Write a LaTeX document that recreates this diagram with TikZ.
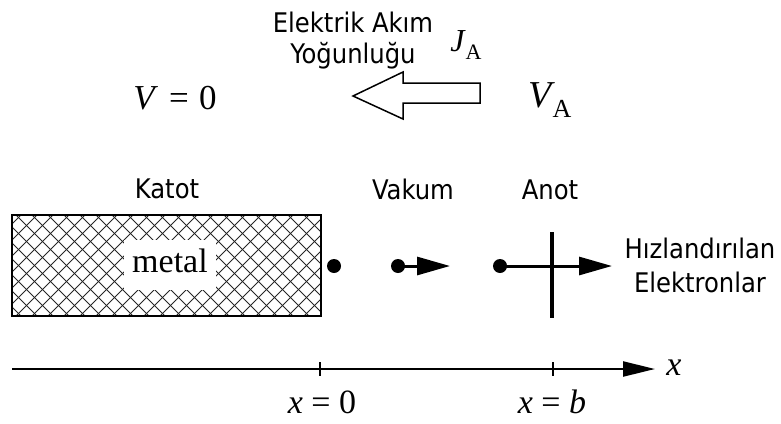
\documentclass[tikz,border=0pt]{standalone}
\usepackage{fontspec}
\usetikzlibrary{arrows.meta}
\newfontfamily\labelfont{DejaVu Sans Condensed}
\newfontfamily\timesfont{Liberation Serif}
\newcommand{\lbl}{\labelfont\fontsize{27}{31}\selectfont}
\newcommand{\subA}[1]{\kern1pt\raisebox{-0.28em}{\upshape\fontsize{#1}{#1}\selectfont A}}
\begin{document}
\begin{tikzpicture}[x=1pt,y=-1pt,
  sanslbl/.style={font=\lbl, inner sep=0pt, anchor=base},
  serlbl/.style={inner sep=0pt, anchor=base},
  hatchline/.style={line width=1pt, draw=black!85},
  dotnode/.style={circle, fill=black, inner sep=0pt, minimum size=14pt},
  elarrow/.style={line width=3pt, -{Triangle[length=33pt,width=18pt]}},
]
\useasboundingbox (0,0) rectangle (781,423);

% metal block with crosshatch
\begin{scope}
  \clip (12,215) rectangle (321,316);
  \foreach \a in {-112,-96,...,336} {
    \draw[hatchline] (\a,215) -- ++(101,101);
    \draw[hatchline] (\a,316) -- ++(101,-101);
  }
\end{scope}
\draw[line width=1.5pt] (12,215) rectangle (321,316);
\fill[white] (124,240) rectangle (216,290);
\node[serlbl, font=\timesfont\fontsize{34}{34}\selectfont] (metal) at (170,272) {metal};

% labels
\node[sanslbl] (katot) at (167,198) {Katot};
\node[sanslbl] (vakum) at (413,199) {Vakum};
\node[sanslbl] (anot) at (550,199) {Anot};
\node[sanslbl] (ea1) at (353,32) {Elektrik Akım};
\node[sanslbl] (ea2) at (353,63) {Yoğunluğu};
\node[sanslbl] (hz1) at (700,258) {Hızlandırılan};
\node[sanslbl] (hz2) at (700,292) {Elektronlar};

% potentials and current density
\node[serlbl, font=\timesfont\fontsize{35}{35}\selectfont] (v0) at (175,109) {\itshape V\/ = \upshape 0};
\node[serlbl, font=\timesfont\fontsize{38}{38}\selectfont] (va) at (550,107) {\itshape V\subA{26}};
\node[serlbl, font=\timesfont\fontsize{32}{32}\selectfont] (ja) at (466,51) {\itshape J\subA{22}};

% hollow arrow
\draw[line width=1.5pt, fill=white] (480,83) -- (403,83) -- (403,72) -- (353,96)
  -- (403,119) -- (403,103) -- (480,103) -- cycle;

% electrons
\node[dotnode] (d1) at (334,266) {};
\node[dotnode] (d2) at (398,266) {};
\node[dotnode] (d3) at (500,266) {};
\coordinate (t2) at (450,266);
\coordinate (t3) at (612,266);
\draw[elarrow] (d2.center) -- (t2);
\draw[elarrow] (d3.center) -- (t3);

% anode plate
\coordinate (anT) at (552,232);
\coordinate (anB) at (552,318);
\draw[line width=4pt] (anT) -- (anB);

% axis
\coordinate (ax0) at (12,369);
\coordinate (ax1) at (655,369);
\draw[line width=2.3pt, -{Triangle[length=32pt,width=15pt]}] (ax0) -- (ax1);
\draw[line width=2pt] (320,362) -- (320,376);
\draw[line width=2pt] (553,362) -- (553,376);
\node[serlbl, font=\timesfont\fontsize{34}{34}\selectfont] (xlab) at (674,375) {\itshape x};
\node[serlbl, font=\timesfont\fontsize{34}{34}\selectfont] (x0) at (322,413) {\itshape x\/ \upshape = 0};
\node[serlbl, font=\timesfont\fontsize{34}{34}\selectfont] (xb) at (552,413) {\itshape x\/ \upshape = \itshape b};
\end{tikzpicture}
\end{document}
